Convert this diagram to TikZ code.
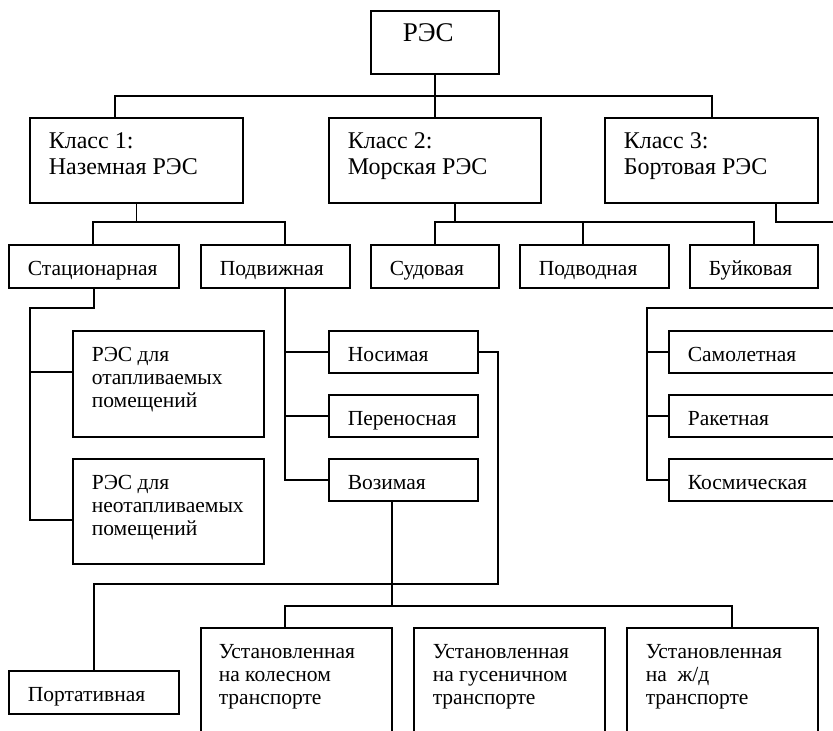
\documentclass[tikz,border=0pt]{standalone}
\usepackage{fontspec}
\setmainfont{Liberation Serif}
\newfontfamily\tnr{Liberation Serif}
\newcommand\fsm{\tnr\fontsize{21.5}{23}\selectfont}
\newcommand\fcl{\tnr\fontsize{24}{26}\selectfont}
\newcommand\ftp{\tnr\fontsize{27}{28}\selectfont}
\tikzset{
  ln/.style={line width=1.6pt},
  boxst/.style={draw, line width=1.6pt, inner sep=0pt, anchor=north west, font=\tnr}
}
% name, x, y, w, h, left pad, font, text
\newcommand\bx[8]{%
  \node[boxst] (#1) at (#2,#3) {\parbox[t][#5pt][t]{#4pt}{#7\raggedright\leftskip=#6pt\relax\rule{0pt}{31pt}#8\par}};%
}
\begin{document}
\begin{tikzpicture}[x=1pt,y=-1pt]
\useasboundingbox (0,0) rectangle (833,731);
\clip (0,0) rectangle (833,731);
\bx{top}{370}{10}{128}{63}{32}{\ftp}{РЭС}
\bx{c1}{29}{117}{213}{85}{19}{\fcl}{Класс 1:\\Наземная РЭС}
\bx{c2}{328}{117}{212}{85}{19}{\fcl}{Класс 2:\\Морская РЭС}
\bx{c3}{604}{117}{213}{85}{19}{\fcl}{Класс 3:\\Бортовая РЭС}
\bx{st}{8}{244}{170}{43}{19}{\fsm}{Стационарная}
\bx{pd}{200}{244}{149}{43}{19}{\fsm}{Подвижная}
\bx{sd}{370}{244}{128}{43}{19}{\fsm}{Судовая}
\bx{pv}{519}{244}{149}{43}{19}{\fsm}{Подводная}
\bx{bk}{689}{244}{128}{43}{19}{\fsm}{Буйковая}
\bx{ot}{72}{330}{191}{106}{19}{\fsm}{РЭС для\\отапливаемых\\помещений}
\bx{nt}{72}{458}{191}{105}{19}{\fsm}{РЭС для\\неотапливаемых\\помещений}
\bx{ns}{328}{330}{149}{42}{19}{\fsm}{Носимая}
\bx{pr}{328}{394}{149}{42}{19}{\fsm}{Переносная}
\bx{vz}{328}{458}{149}{42}{19}{\fsm}{Возимая}
\bx{sm}{668}{330}{200}{42}{19}{\fsm}{Самолетная}
\bx{rk}{668}{394}{200}{42}{19}{\fsm}{Ракетная}
\bx{ks}{668}{458}{200}{42}{19}{\fsm}{Космическая}
\bx{pt}{8}{670}{170}{43}{19}{\fsm}{Портативная}
\bx{u1}{200}{627}{191}{130}{18}{\fsm}{Установленная\\на колесном\\транспорте}
\bx{u2}{413}{627}{191}{130}{19}{\fsm}{Установленная\\на гусеничном\\транспорте}
\bx{u3}{626}{627}{191}{130}{19}{\fsm}{Установленная\\на\ \ ж/д\\транспорте}
% level 1
\coordinate (k1) at (115,96);
\coordinate (k3) at (712,96);
\draw[ln] (top.south) -- (top.south |- k1);
\draw[ln] (c1.north -| k1) -- (k1) -- (k3) -- (c3.north -| k3);
\draw[ln] (c2.north) -- (c2.north |- k1);
% level 2
\coordinate (m1l) at (93,222);
\coordinate (m1r) at (285,222);
\draw[ln] (c1.south) -- (c1.south |- m1l);
\draw[ln] (st.north -| m1l) -- (m1l) -- (m1r) -- (pd.north -| m1r);
\coordinate (m2) at (455,222);
\coordinate (m2p) at (583,222);
\draw[ln] (c2.south -| m2) -- (m2);
\draw[ln] (sd.north) |- (bk.north |- m2) -- (bk.north);
\draw[ln] (pv.north -| m2p) -- (m2p);
\coordinate (m3) at (776,222);
\coordinate (m3e) at (845,222);
\draw[ln] (c3.south -| m3) -- (m3) -- (m3e);
% stationary
\coordinate (s2) at (30,308);
\coordinate (s4) at (0,372);
\coordinate (s5) at (0,520);
\draw[ln] (st.south) |- (s2) |- (nt.west |- s5);
\draw[ln] (s2 |- s4) -- (ot.west |- s4);
% mobile
\coordinate (p1) at (285,0);
\draw[ln] (pd.south -| p1) |- (vz.west);
\draw[ln] (p1 |- ns.west) -- (ns.west);
\draw[ln] (p1 |- pr.west) -- (pr.west);
\coordinate (q1) at (498,584);
\draw[ln] (ns.east) -| (q1) -| (pt.north);
\coordinate (r0) at (285,606);
\coordinate (r1) at (392,606);
\coordinate (r2) at (732,606);
\draw[ln] (vz.south -| r1) -- (r1);
\draw[ln] (u1.north -| r0) -- (r0) -- (r2) -- (u3.north -| r2);
% airborne
\coordinate (t1) at (647,308);
\coordinate (t2) at (845,308);
\draw[ln] (t2) -- (t1) |- (ks.west);
\draw[ln] (t1 |- sm.west) -- (sm.west);
\draw[ln] (t1 |- rk.west) -- (rk.west);
\end{tikzpicture}
\end{document}
